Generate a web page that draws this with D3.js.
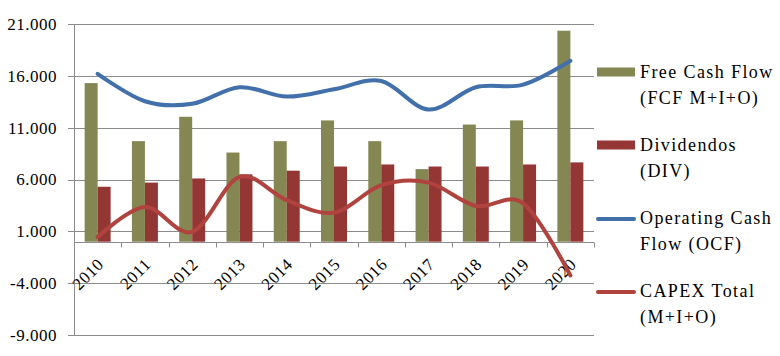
<!DOCTYPE html>
<html>
<head>
<meta charset="utf-8">
<script src="https://cdn.jsdelivr.net/npm/d3@7/dist/d3.min.js"></script>
<style>
  html, body { margin: 0; padding: 0; background: #fff; }
  svg { display: block; }
  svg text { font-family: "Liberation Serif", "Times New Roman", serif; }
</style>
</head>
<body>
<svg id="chart" width="780" height="356"></svg>
<script>
const years = ["2010","2011","2012","2013","2014","2015","2016","2017","2018","2019","2020"];
const fcf   = [15300, 9700, 12050, 8600, 9700, 11700, 9700, 7000, 11300, 11700, 20350];
const div   = [5300, 5700, 6100, 6500, 6850, 7250, 7450, 7250, 7250, 7450, 7650];
const ocf   = [16200, 13550, 13300, 14900, 14000, 14700, 15500, 12750, 14900, 15150, 17450];
const capex = [450, 3350, 950, 6250, 4000, 2800, 5450, 5700, 3450, 3700, -3250];
const yTicks = [-9000, -4000, 1000, 6000, 11000, 16000, 21000];
const legendItems = [
  { lines: ["Free Cash Flow", "(FCF M+I+O)"], type: "bar", color: "#848752" },
  { lines: ["Dividendos", "(DIV)"], type: "bar", color: "#943634" },
  { lines: ["Operating Cash", "Flow (OCF)"], type: "line", color: "#4170AA" },
  { lines: ["CAPEX Total", "(M+I+O)"], type: "line", color: "#B1433F" }
];

(function () {
const svg = d3.select("#chart");
const pLeft = 74, pRight = 594, pTop = 24, pBottom = 335;

const y = d3.scaleLinear().domain([-9000, 21000]).range([pBottom, pTop]);
const x = d3.scaleBand().domain(years).range([pLeft, pRight]).paddingInner(0).paddingOuter(0);
const x1 = d3.scaleBand().domain(["fcf", "div"]).range([0, x.bandwidth()]).paddingInner(0).paddingOuter(0.82);

const fmt = v => d3.format(",")(v).replace(/,/g, ".").replace("\u2212", "-");

// gridlines
svg.append("g").selectAll("line").data(yTicks).join("line")
  .attr("x1", pLeft - 6).attr("x2", pRight)
  .attr("y1", d => Math.round(y(d)) + 0.5).attr("y2", d => Math.round(y(d)) + 0.5)
  .attr("stroke", "#8c8c8c").attr("stroke-width", 1);

// y axis line
svg.append("line")
  .attr("x1", pLeft + 0.5).attr("x2", pLeft + 0.5)
  .attr("y1", y(21000)).attr("y2", y(-9000))
  .attr("stroke", "#8c8c8c");

// y labels
svg.append("g").selectAll("text").data(yTicks).join("text")
  .attr("x", 57).attr("y", d => y(d))
  .attr("dy", "0.35em")
  .attr("text-anchor", "end")
  .attr("font-size", 17).attr("letter-spacing", 0.5)
  .attr("fill", "#000")
  .text(d => fmt(d));

// bars
const barData = years.map((yr, i) => ({ yr, fcf: fcf[i], div: div[i] }));
const gBars = svg.append("g");
gBars.selectAll("rect.fcf").data(barData).join("rect")
  .attr("class", "fcf")
  .attr("x", d => x(d.yr) + x1("fcf"))
  .attr("width", x1.bandwidth())
  .attr("y", d => y(Math.max(0, d.fcf)))
  .attr("height", d => Math.abs(y(d.fcf) - y(0)))
  .attr("fill", legendItems[0].color);
gBars.selectAll("rect.div").data(barData).join("rect")
  .attr("class", "div")
  .attr("x", d => x(d.yr) + x1("div"))
  .attr("width", x1.bandwidth())
  .attr("y", d => y(Math.max(0, d.div)))
  .attr("height", d => Math.abs(y(d.div) - y(0)))
  .attr("fill", legendItems[1].color);

// category axis at 0
const y0 = Math.round(y(0)) + 0.5;
svg.append("line")
  .attr("x1", pLeft).attr("x2", pRight)
  .attr("y1", y0).attr("y2", y0)
  .attr("stroke", "#8c8c8c");
const boundaries = years.map(yr => x(yr)).concat([pRight]);
svg.append("g").selectAll("line").data(boundaries).join("line")
  .attr("x1", d => Math.round(d) + 0.5).attr("x2", d => Math.round(d) + 0.5)
  .attr("y1", y0).attr("y2", y0 + 5)
  .attr("stroke", "#8c8c8c");

// category labels
svg.append("g").selectAll("text").data(years).join("text")
  .attr("transform", d => `translate(${x(d) + x.bandwidth() / 2 + 7},${y0 + 23}) rotate(-45)`)
  .attr("text-anchor", "end")
  .attr("font-size", 17).attr("letter-spacing", 0.5)
  .attr("fill", "#000")
  .text(d => d);

// lines
const cx = yr => x(yr) + x.bandwidth() / 2;
const lineGen = d3.line().x(d => cx(d.yr)).y(d => y(d.v)).curve(d3.curveCardinal.tension(0));
svg.append("path")
  .datum(years.map((yr, i) => ({ yr, v: capex[i] })))
  .attr("d", lineGen)
  .attr("fill", "none").attr("stroke", legendItems[3].color)
  .attr("stroke-width", 4).attr("stroke-linecap", "round").attr("stroke-linejoin", "round");
svg.append("path")
  .datum(years.map((yr, i) => ({ yr, v: ocf[i] })))
  .attr("d", lineGen)
  .attr("fill", "none").attr("stroke", legendItems[2].color)
  .attr("stroke-width", 4).attr("stroke-linecap", "round").attr("stroke-linejoin", "round");

// legend
const lg = svg.append("g");
legendItems.forEach((item, i) => {
  const cy = 72 + i * 73;
  if (item.type === "bar") {
    lg.append("rect").attr("x", 597).attr("y", cy - 4.5).attr("width", 38).attr("height", 9).attr("fill", item.color);
  } else {
    lg.append("line").attr("x1", 598).attr("x2", 634).attr("y1", cy + 1).attr("y2", cy + 1)
      .attr("stroke", item.color).attr("stroke-width", 4).attr("stroke-linecap", "round");
  }
  item.lines.forEach((t, j) => {
    lg.append("text")
      .attr("x", 640).attr("y", cy + j * 25.5)
      .attr("dy", "0.35em")
      .attr("font-size", 18).attr("letter-spacing", 1.4)
      .attr("fill", "#000")
      .text(t);
  });
});
})();
</script>
</body>
</html>
